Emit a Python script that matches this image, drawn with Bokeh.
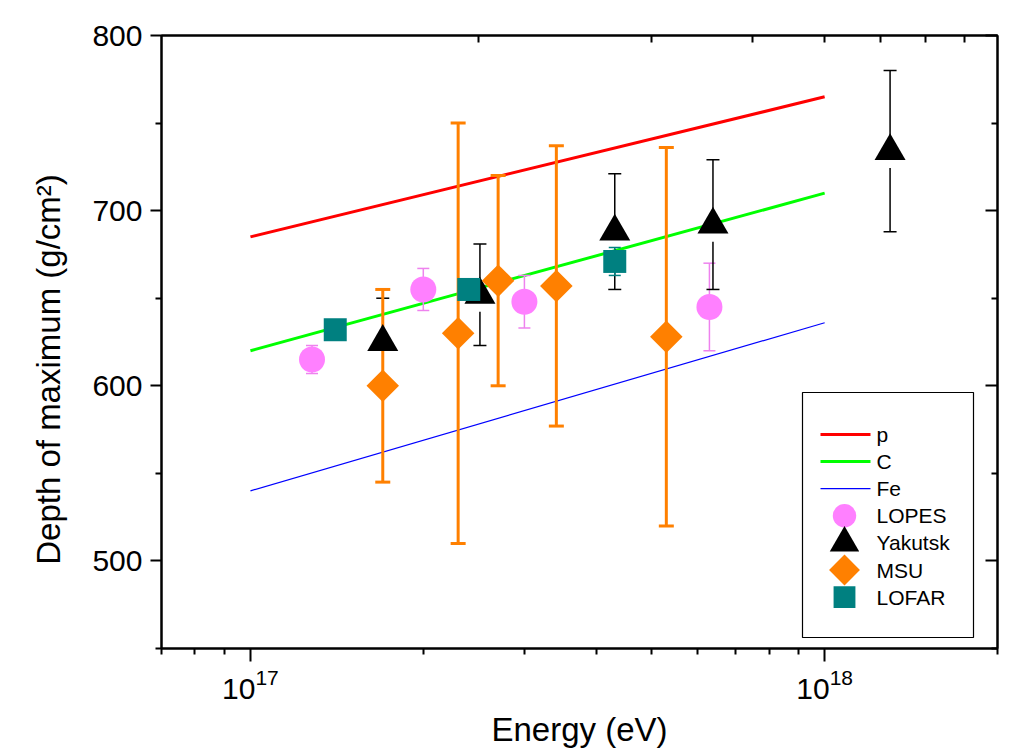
import numpy as np
from bokeh.plotting import figure
from bokeh.models import (Range1d, LogAxis, LinearAxis, FixedTicker,
                          CustomJSTickFormatter, LogTickFormatter)
from bokeh.core.properties import value
from bokeh.embed import file_html
from bokeh.resources import INLINE

# ---------------- data ----------------
model_E = [1e17, 1e18]
p_Xmax = [685, 765]
C_Xmax = [620, 710]
Fe_Xmax = [540, 636]

lopes_E = [1.28e17, 2.0e17, 3.0e17, 6.3e17]
lopes_X = [615, 655, 648, 645]
lopes_err = [8, 12, 15, 25]

yakutsk_E = [1.7e17, 2.51e17, 4.31e17, 6.39e17, 1.3e18]
yakutsk_X = [625, 652, 688, 692, 734]
yakutsk_err = [25, 29, 33, 37, 46]

msu_E = [1.7e17, 2.3e17, 2.7e17, 3.41e17, 5.3e17]
msu_X = [600, 630, 660, 657, 628]
msu_err = [55, 120, 60, 80, 108]

lofar_E = [1.405e17, 2.4e17, 4.31e17]
lofar_X = [632, 655, 671]
lofar_err = [5, 5, 8]

x_major = [1e17, 1e18]
x_minor = [7e16, 8e16, 9e16, 2e17, 3e17, 4e17, 5e17, 6e17, 7e17, 8e17, 9e17, 2e18]
top_ticks = [2.5e17, 5e17, 7.5e17, 1e18, 1.25e18, 1.5e18, 1.75e18]
y_major = [500, 600, 700, 800]
y_minor = [450, 550, 650, 750]

legend_labels = ["p", "C", "Fe", "LOPES", "Yakutsk", "MSU", "LOFAR"]

# ---------------- figure ----------------
XR = (7e16, 2e18)
YR = (450, 800)
FL, FR, FT, FB = 161, 997, 35, 648
FONT = "Liberation Sans"
PX_PER_Y = (FB - FT) / (YR[1] - YR[0])

p = figure(width=1012, height=755, x_axis_type="log",
           x_range=Range1d(*XR), y_range=Range1d(*YR),
           output_backend="svg", toolbar_location=None,
           min_border_left=FL, min_border_right=1012 - FR,
           min_border_top=FT, min_border_bottom=755 - FB)
p.grid.visible = False
p.outline_line_color = "black"
p.outline_line_width = 2
p.background_fill_color = "white"
p.border_fill_color = "white"

def style_axis(ax):
    ax.axis_line_width = 2
    ax.major_tick_line_width = 2
    ax.minor_tick_line_width = 2
    ax.axis_line_color = "black"
    ax.major_tick_line_color = "black"
    ax.minor_tick_line_color = "black"
    ax.major_label_text_font = FONT
    ax.major_label_text_font_size = "30px"
    ax.major_label_text_color = "black"
    ax.axis_label_text_font = FONT
    ax.axis_label_text_font_size = "33px"
    ax.axis_label_text_font_style = "normal"
    ax.axis_label_text_color = "black"

xb = p.xaxis[0]
style_axis(xb)
xb.ticker = FixedTicker(ticks=x_major, minor_ticks=x_minor)
xb.formatter = LogTickFormatter()
xb.major_tick_out = 13
xb.major_tick_in = 0
xb.minor_tick_out = 6
xb.minor_tick_in = 0
xb.major_label_standoff = 7
xb.axis_label = "Energy (eV)"
xb.axis_label_standoff = 9

yl = p.yaxis[0]
style_axis(yl)
yl.ticker = FixedTicker(ticks=y_major, minor_ticks=y_minor)
yl.major_tick_out = 11
yl.major_tick_in = 0
yl.minor_tick_out = 6
yl.minor_tick_in = 0
yl.major_label_standoff = 8
# trailing no-break spaces shift the centred title down, as in the original
yl.axis_label = "Depth of maximum (g/cm²)" + "\u00a0" * 6
yl.axis_label_standoff = 22

blank = CustomJSTickFormatter(code="return ''")

xt = LogAxis(ticker=FixedTicker(ticks=[], minor_ticks=top_ticks), formatter=blank)
style_axis(xt)
xt.major_tick_in = 7
xt.major_tick_out = 0
xt.minor_tick_in = 7
xt.minor_tick_out = 0
p.add_layout(xt, "above")

yr = LinearAxis(ticker=FixedTicker(ticks=y_major, minor_ticks=y_minor), formatter=blank)
style_axis(yr)
yr.major_tick_in = 12
yr.major_tick_out = 0
yr.minor_tick_in = 6
yr.minor_tick_out = 0
p.add_layout(yr, "right")

# ---------------- helpers: frame pixel -> data ----------------
def sx(px):
    a, b = np.log10(XR[0]), np.log10(XR[1])
    return 10 ** (a + (px - FL) / (FR - FL) * (b - a))

def sy(py):
    return YR[1] - (py - FT) / (FB - FT) * (YR[1] - YR[0])

# ---------------- model lines ----------------
p.line(model_E, p_Xmax, line_color="#FF0000", line_width=3)
p.line(model_E, C_Xmax, line_color="#00FF00", line_width=3)
p.line(model_E, Fe_Xmax, line_color="#0000FF", line_width=1.2)

# ---------------- error bars ----------------
def errbar(E, X, err, color, lw, cap, gap_px=None):
    lo = [x - e for x, e in zip(X, err)]
    hi = [x + e for x, e in zip(X, err)]
    if gap_px is None:
        p.segment(x0=E, y0=lo, x1=E, y1=hi, line_color=color, line_width=lw)
    else:
        # upper part reaches the marker, lower part stops short of it
        g = gap_px / PX_PER_Y
        p.segment(x0=E, y0=X, x1=E, y1=hi, line_color=color, line_width=lw)
        p.segment(x0=E, y0=lo, x1=E, y1=[x - g for x in X],
                  line_color=color, line_width=lw)
    p.scatter(x=list(E) + list(E), y=lo + hi, marker="dash", size=cap,
              line_color=color, line_width=lw)

errbar(lopes_E, lopes_X, lopes_err, "#EE82EE", 1.5, 12)
errbar(yakutsk_E, yakutsk_X, yakutsk_err, "black", 1.5, 13, gap_px=17)
errbar(msu_E, msu_X, msu_err, "#FF8000", 3, 15)
errbar(lofar_E, lofar_X, lofar_err, "#008080", 1.5, 12)

# ---------------- markers ----------------
STY = {
    "LOPES": dict(marker="circle", size=26, fill_color="#FF80FF", angle=0.0),
    "Yakutsk": dict(marker="triangle", size=31, fill_color="black", angle=0.0),
    "MSU": dict(marker="square", size=23, fill_color="#FF8000", angle=np.pi / 4),
    "LOFAR": dict(marker="square", size=23, fill_color="#008080", angle=0.0),
}
for name, E, X in [("LOPES", lopes_E, lopes_X), ("Yakutsk", yakutsk_E, yakutsk_X),
                   ("MSU", msu_E, msu_X), ("LOFAR", lofar_E, lofar_X)]:
    s = STY[name]
    p.scatter(E, X, marker=s["marker"], size=s["size"], angle=s["angle"],
              fill_color=s["fill_color"], line_color=None)

# ---------------- legend (manual, positioned in frame pixels) ----------------
p.quad(left=[sx(802)], right=[sx(973)], top=[sy(392)], bottom=[sy(637)],
       fill_color="white", line_color="black", line_width=1.2)

row_y = [434 + 27.1 * i for i in range(len(legend_labels))]
line_styles = [("#FF0000", 3), ("#00FF00", 3), ("#0000FF", 1.2)]
for i, (c, w) in enumerate(line_styles):
    p.line([sx(820), sx(870)], [sy(row_y[i])] * 2, line_color=c, line_width=w)
for j, name in enumerate(["LOPES", "Yakutsk", "MSU", "LOFAR"]):
    s = STY[name]
    size = s["size"] * (0.9 if name == "LOPES" else 0.95)
    p.scatter([sx(844)], [sy(row_y[3 + j])], marker=s["marker"], size=size,
              angle=s["angle"], fill_color=s["fill_color"], line_color=None)
p.text(x=[sx(876)] * len(legend_labels), y=[sy(y) for y in row_y], text=legend_labels,
       text_font=value(FONT), text_font_size="21px", text_color="black",
       text_baseline="middle", text_align="left")

open("out.html", "w").write(file_html(p, INLINE))
